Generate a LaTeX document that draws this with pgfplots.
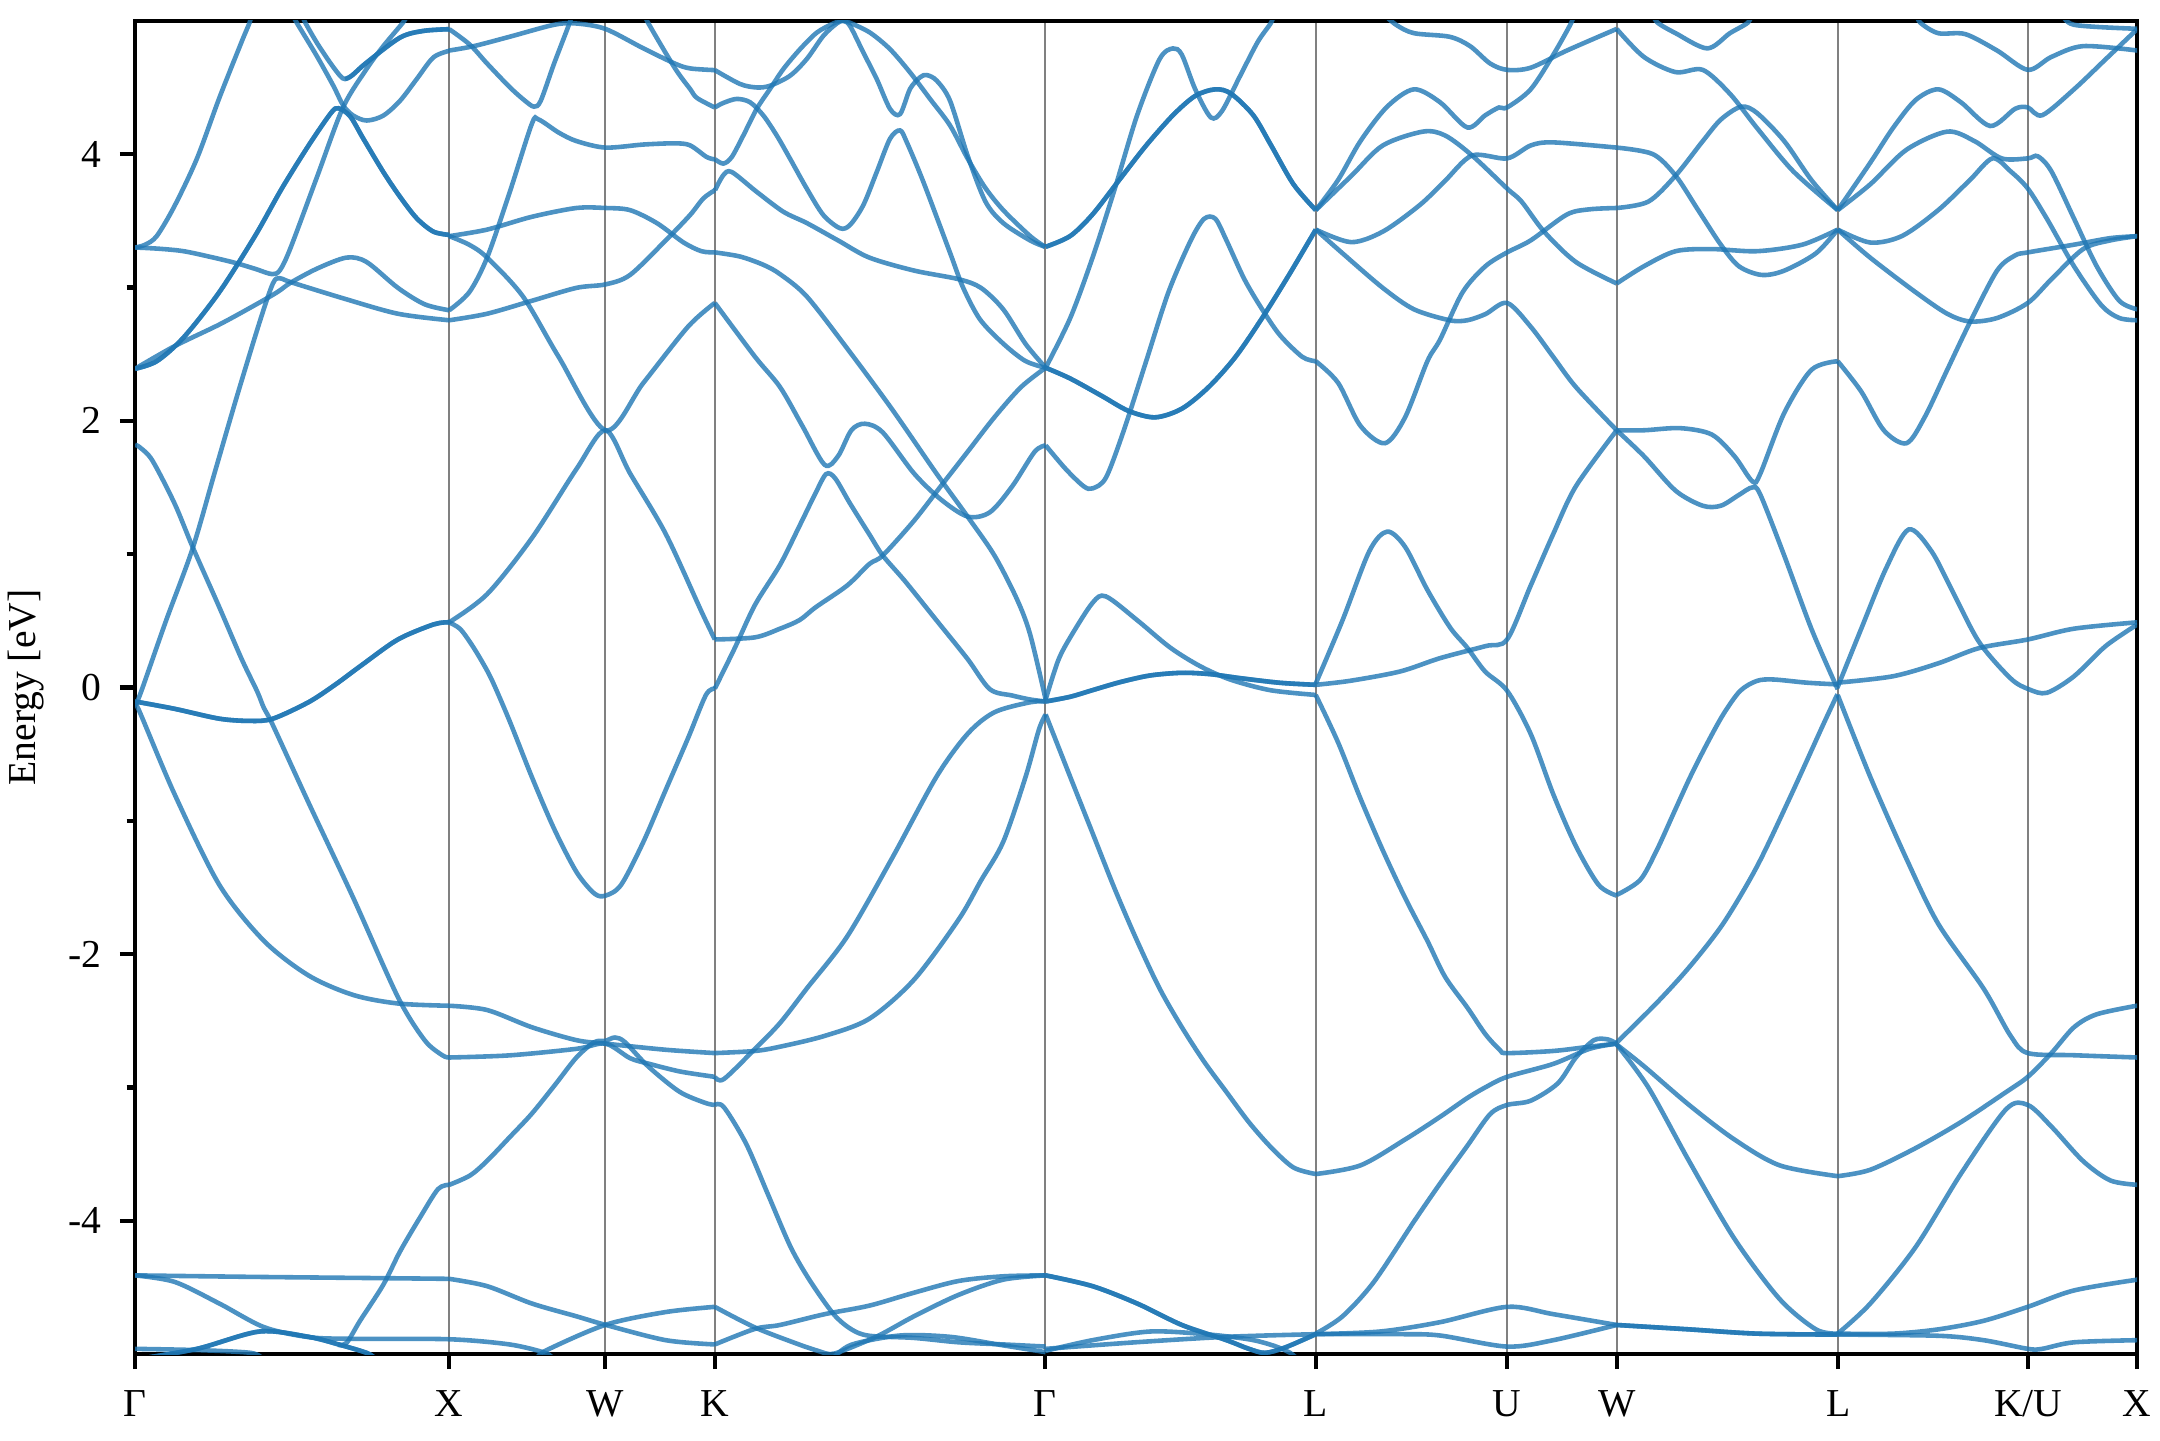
\documentclass[border=0pt]{standalone}
\usepackage{fontspec}
\setmainfont{Liberation Serif}
\usepackage{pgfplots}
\pgfplotsset{compat=1.18}
\definecolor{bandc}{RGB}{31,119,180}
\pgfplotsset{b/.style={line width=1.1pt, color=bandc, opacity=0.8, smooth, tension=0.5, mark=none}}
\begin{document}
\begin{tikzpicture}
\path[use as bounding box] (-32.4pt,-20.6pt) rectangle (486pt,325pt);
\begin{axis}[
  at={(0,0)}, anchor=south west,
  scale only axis, width=480.5pt, height=320pt,
  xmin=135, xmax=2137, ymin=-5, ymax=5,
  axis line style={line width=1pt},
  xtick={135,449,605,715,1045,1316,1507,1617,1838,2028,2137},
  xticklabels={Γ,X,W,K,Γ,L,U,W,L,K/U,X},
  ytick={-4,-2,0,2,4}, minor ytick={-3,-1,1,3},
  yticklabels={-4,-2,0,2,4},
  tick align=outside, tick pos=left,
  major tick length=3.6pt, minor tick length=2pt,
  every tick/.style={black, line width=1pt},
  xmajorgrids, major x grid style={black!50, line width=0.5pt},
  tick label style={font=\fontsize{9.5}{11}\selectfont},
  yticklabel style={anchor=east, inner sep=0pt, xshift=-4.2pt},
  xticklabel style={anchor=north, inner sep=0pt, yshift=-5pt},
  ylabel={Energy [eV]},
  every axis y label/.style={at={(axis description cs:-0.0545,0.5)}, rotate=90, anchor=center, font=\fontsize{9.5}{11}\selectfont},
]
% ---------- Panel Gamma-X ----------
\addplot[b] coordinates {(135,3.30)(145,3.32)(156.8,3.386)(174.6,3.612)(197,3.968)(219.3,4.421)(241.6,4.842)(249.6,4.987)(252,5.06)};
\addplot[b] coordinates {(135,3.30)(160,3.29)(183.6,3.272)(210,3.23)(234.9,3.185)(255,3.14)(272,3.10)(280,3.13)(290.7,3.30)(317.5,3.839)(343,4.35)(366.7,4.64)(383.3,4.81)(403.3,4.99)(408,5.05)};
\addplot[b] coordinates {(135,2.39)(156.8,2.447)(183.6,2.625)(219.3,2.965)(255,3.386)(281.8,3.742)(308.6,4.065)(330.9,4.308)(338.3,4.344)(350,4.285)(363.3,4.116)(383.3,3.866)(400,3.68)(416.7,3.519)(433.3,3.419)(449.3,3.394)};
\addplot[b] coordinates {(135,2.39)(156.8,2.447)(183.6,2.625)(219.3,2.965)(255,3.386)(281.8,3.742)(308.6,4.065)(330.9,4.308)(338.3,4.344)(350,4.285)(363.3,4.116)(383.3,3.866)(400,3.68)(416.7,3.519)(433.3,3.419)(449.3,3.394)};
\addplot[b] coordinates {(135,2.39)(174.6,2.56)(219.3,2.722)(255,2.868)(277.3,2.965)(290.7,3.036)(317.5,3.143)(346.5,3.224)(366.6,3.191)(397.9,2.997)(424.6,2.874)(449.2,2.829)};
\addplot[b] coordinates {(135,-0.14)(141.2,-0.03)(166,0.50)(192.5,1.04)(215,1.62)(237.1,2.188)(260,2.75)(272.9,3.03)(279.6,3.07)(290.7,3.04)(344.3,2.916)(397.9,2.803)(449.2,2.754)};
\addplot[b] coordinates {(291.5,5.06)(296.7,4.986)(316.7,4.737)(333.3,4.513)(343.3,4.364)(353.3,4.289)(366.7,4.252)(383.3,4.289)(400,4.40)(416.7,4.563)(433.3,4.725)(449.3,4.775)};
\addplot[b] coordinates {(301,5.06)(305,4.99)(316.7,4.837)(330,4.687)(340,4.588)(345,4.563)(352,4.59)(366.7,4.687)(400,4.874)(423.3,4.924)(449.3,4.937)};
\addplot[b] coordinates {(345,4.563)(352,4.59)(366.7,4.687)(400,4.874)(423.3,4.924)(449.3,4.937)};
\addplot[b] coordinates {(135,1.82)(140,1.80)(152.3,1.703)(174.6,1.379)(192.5,1.056)(219.3,0.602)(241.6,0.214)(257.2,-0.03)(263.9,-0.154)(272.9,-0.283)(308.6,-0.865)(353.2,-1.577)(397.9,-2.322)(424.6,-2.645)(442.5,-2.759)(449.2,-2.775)};
\addplot[b] coordinates {(135,-0.105)(174.6,-0.16)(219.3,-0.234)(250.5,-0.251)(272.9,-0.234)(308.6,-0.11)(335,0.02)(362.1,0.17)(397.9,0.36)(433.6,0.473)(449.2,0.489)};
\addplot[b] coordinates {(135,-0.105)(174.6,-0.16)(219.3,-0.234)(250.5,-0.251)(272.9,-0.234)(308.6,-0.11)(335,0.02)(362.1,0.17)(397.9,0.36)(433.6,0.473)(449.2,0.489)};
\addplot[b] coordinates {(135,-0.14)(138.9,-0.17)(174.6,-0.801)(219.3,-1.48)(263.9,-1.90)(308.6,-2.16)(353.2,-2.306)(397.9,-2.37)(449.2,-2.387)};
\addplot[b] coordinates {(135,-4.409)(250,-4.42)(384,-4.43)(449.2,-4.435)};
\addplot[b] coordinates {(135,-4.409)(174.6,-4.458)(219.3,-4.62)(263.9,-4.797)(308.6,-4.872)(353.2,-4.885)(449.2,-4.888)(509.5,-4.927)(545.2,-4.99)(552,-5.03)};
\addplot[b] coordinates {(135,-5.04)(197,-4.96)(259.5,-4.83)(308.6,-4.87)(340,-4.93)(366.6,-4.99)(375,-5.03)};
\addplot[b] coordinates {(135,-5.04)(197,-4.96)(259.5,-4.83)(308.6,-4.87)(340,-4.93)(366.6,-4.99)(375,-5.03)};
\addplot[b] coordinates {(135,-4.96)(200,-4.97)(250.5,-4.99)(262,-5.03)};
\addplot[b] coordinates {(338,-4.93)(346.7,-4.914)(360,-4.75)(383.3,-4.479)(400,-4.23)(420.2,-3.972)(438,-3.762)(449.2,-3.73)};
% ---------- Panel X-W-K ----------
\addplot[b] coordinates {(449.3,4.937)(470,4.82)(487,4.68)(510,4.50)(525,4.40)(534,4.356)(540.7,4.40)(554.1,4.68)(569.7,4.987)(572,5.06)};
\addplot[b] coordinates {(449.2,4.777)(473.8,4.81)(509.5,4.88)(554,4.97)(576,4.98)(605.4,4.939)(643.4,4.793)(674.6,4.68)(690,4.643)(714.8,4.63)};
\addplot[b] coordinates {(449.2,3.385)(487.1,3.434)(531.8,3.53)(576.4,3.596)(605.4,3.596)(630,3.58)(656.8,3.483)(683.6,3.337)(701.4,3.272)(714.8,3.263)};
\addplot[b] coordinates {(449.2,3.385)(469.3,3.32)(487.1,3.224)(522.9,2.933)(558.6,2.48)(605.4,1.929)(643.4,2.285)(688,2.706)(714.8,2.884)};
\addplot[b] coordinates {(449.2,2.829)(469.3,2.965)(487.1,3.224)(509.5,3.71)(531.8,4.227)(538.5,4.26)(558.6,4.162)(576.4,4.098)(605.4,4.049)(643.4,4.072)(674.6,4.081)(690,4.066)(706.7,3.978)(715,3.961)};
\addplot[b] coordinates {(449.2,2.754)(487.1,2.803)(531.8,2.9)(576.4,2.997)(605.4,3.023)(630,3.094)(665.7,3.353)(690,3.543)(703.3,3.668)(715,3.73)};
\addplot[b] coordinates {(449.2,0.489)(487.1,0.7)(531.8,1.12)(576.4,1.638)(605.4,1.929)(630,1.606)(665.7,1.152)(701.4,0.57)(714.8,0.36)};
\addplot[b] coordinates {(449.2,0.489)(460,0.44)(470,0.34)(480,0.22)(491.6,0.06)(509.5,-0.25)(531.8,-0.671)(554.1,-1.06)(576.4,-1.383)(594.3,-1.545)(605.4,-1.561)(621.1,-1.48)(643.4,-1.157)(665.7,-0.768)(688,-0.38)(705.9,-0.056)(714.8,-0.008)};
\addplot[b] coordinates {(449.2,-2.387)(487.1,-2.419)(531.8,-2.548)(576.4,-2.645)(605.4,-2.671)(665.7,-2.717)(714.8,-2.742)};
\addplot[b] coordinates {(449.2,-2.775)(509.5,-2.759)(576.4,-2.71)(605.4,-2.671)(630,-2.78)(647.9,-2.82)(680,-2.88)(714.8,-2.92)};
\addplot[b] coordinates {(449.2,-3.73)(470,-3.66)(487.1,-3.55)(510,-3.37)(531.8,-3.196)(555,-2.98)(576.4,-2.775)(594.3,-2.66)(605.4,-2.65)(615,-2.625)(625,-2.66)(647.9,-2.84)(679.1,-3.03)(705,-3.115)(714.8,-3.131)};
\addplot[b] coordinates {(449.2,-4.435)(487.1,-4.49)(531.8,-4.62)(576.4,-4.716)(605.4,-4.78)(665.7,-4.895)(714.8,-4.927)};
\addplot[b] coordinates {(538,-5.03)(545.2,-4.975)(605.4,-4.78)(665.7,-4.684)(714.8,-4.645)};
\addplot[b] coordinates {(644,5.06)(647.9,4.987)(674.6,4.648)(690,4.489)(697,4.421)(714.8,4.35)};
% ---------- Panel K-Gamma ----------
\addplot[b] coordinates {(714.8,4.63)(740,4.526)(756.7,4.50)(770,4.513)(790,4.588)(806.7,4.713)(823.3,4.887)(836.7,4.98)(843,5.0)(850,4.985)(870,4.911)(890,4.787)(910,4.613)(930,4.414)(950,4.215)(967.5,3.968)(985,3.75)(1003.2,3.58)(1030,3.386)(1045,3.305)};
\addplot[b] coordinates {(715,3.961)(723.3,3.929)(731.7,3.978)(743.3,4.14)(756.7,4.34)(770,4.489)(783.3,4.638)(800,4.787)(816.7,4.911)(833.3,4.98)(843,5.0)(850,4.961)(863.3,4.762)(876.7,4.563)(890,4.339)(900,4.30)(910,4.489)(920,4.576)(926.7,4.593)(936.7,4.551)(950,4.40)(967.5,3.99)(985.4,3.644)(1003.2,3.483)(1030,3.353)(1045,3.305)};
\addplot[b] coordinates {(714.8,4.35)(723.3,4.384)(736.7,4.414)(750,4.389)(763.3,4.29)(776.7,4.14)(790,3.966)(806.7,3.742)(823.3,3.543)(840,3.444)(850,3.469)(863.3,3.618)(876.7,3.866)(890,4.116)(900,4.178)(906.7,4.09)(923.3,3.792)(950,3.26)(963,3.0)(980,2.76)(1003,2.58)(1025,2.45)(1045,2.398)};
\addplot[b] coordinates {(715,3.73)(723.3,3.842)(731.7,3.866)(756.7,3.717)(783.3,3.568)(806.8,3.483)(838,3.353)(869.3,3.224)(913.9,3.127)(958.6,3.062)(980.9,2.997)(1003.2,2.836)(1025.5,2.577)(1045.6,2.398)};
\addplot[b] coordinates {(714.8,3.263)(740,3.232)(763.3,3.17)(780,3.1)(806.8,2.932)(847,2.544)(891.6,2.091)(936.3,1.606)(967.5,1.282)(994.3,0.991)(1016.6,0.667)(1030,0.40)(1045.6,-0.09)};
\addplot[b] coordinates {(714.8,2.884)(755,2.48)(780,2.253)(802.3,1.962)(824.6,1.67)(838,1.735)(851.4,1.93)(864.8,1.978)(882.7,1.913)(913.9,1.606)(940.7,1.411)(967.5,1.282)(989.8,1.314)(1012.1,1.508)(1034.5,1.767)(1045.6,1.816)};
\addplot[b] coordinates {(714.8,0.36)(755,0.376)(780,0.441)(799.6,0.506)(815.7,0.602)(847,0.764)(869.3,0.926)(882.7,0.99)(913.9,1.25)(940.7,1.509)(967.5,1.767)(994.3,2.026)(1021,2.253)(1045.6,2.398)};
\addplot[b] coordinates {(714.8,-0.008)(735,0.3)(755,0.62)(780,0.92)(800,1.22)(815,1.45)(826,1.6)(835,1.57)(850,1.38)(870,1.14)(882.7,0.99)(905,0.797)(936.3,0.505)(967.5,0.214)(989.8,-0.013)(1012,-0.06)(1030,-0.09)(1045.6,-0.105)};
\addplot[b] coordinates {(714.8,-2.742)(755,-2.726)(780,-2.694)(824.6,-2.613)(869.3,-2.484)(913.9,-2.192)(958.6,-1.74)(980.9,-1.448)(1003.2,-1.157)(1025.5,-0.671)(1038.9,-0.315)(1045.6,-0.202)};
\addplot[b] coordinates {(714.8,-2.92)(723.8,-2.937)(755,-2.71)(780,-2.516)(806.8,-2.257)(847,-1.869)(891.6,-1.286)(936.3,-0.671)(967.5,-0.348)(994.3,-0.186)(1030,-0.111)(1045.6,-0.105)};
\addplot[b] coordinates {(714.8,-3.131)(723.8,-3.147)(746.1,-3.422)(768.4,-3.81)(790.7,-4.198)(810,-4.45)(833.6,-4.70)(851.4,-4.814)(869.3,-4.862)(913.9,-4.878)(958.6,-4.911)(1003.2,-4.927)(1045.6,-4.943)};
\addplot[b] coordinates {(714.8,-4.645)(755,-4.80)(800,-4.93)(820,-4.98)(830,-5.0)(842.5,-4.975)(878.2,-4.862)(913.9,-4.716)(958.6,-4.555)(1003.2,-4.441)(1045.6,-4.409)};
\addplot[b] coordinates {(714.8,-4.927)(755,-4.81)(780,-4.781)(824.6,-4.70)(869.3,-4.636)(913.9,-4.539)(958.6,-4.451)(1003.2,-4.416)(1045.6,-4.409)};
\addplot[b] coordinates {(832,-5.04)(851,-4.93)(900,-4.86)(950,-4.87)(1000,-4.93)(1045.6,-4.985)};
% ---------- Panel Gamma-L ----------
\addplot[b] coordinates {(1045.6,3.305)(1070.2,3.386)(1092.5,3.548)(1119.3,3.807)(1146.1,4.065)(1172.9,4.292)(1195.2,4.437)(1215.3,4.486)(1230.9,4.454)(1253.2,4.292)(1271.1,4.065)(1293.4,3.774)(1315.7,3.58)};
\addplot[b] coordinates {(1045.6,3.305)(1070.2,3.386)(1092.5,3.548)(1119.3,3.807)(1146.1,4.065)(1172.9,4.292)(1195.2,4.437)(1215.3,4.486)(1230.9,4.454)(1253.2,4.292)(1271.1,4.065)(1293.4,3.774)(1315.7,3.58)};
\addplot[b] coordinates {(1045.6,2.398)(1070.2,2.771)(1092.5,3.224)(1114.8,3.742)(1137.1,4.292)(1159.5,4.712)(1172.9,4.793)(1181.8,4.745)(1195.2,4.486)(1210.8,4.275)(1222,4.324)(1239.8,4.583)(1257.7,4.842)(1271.1,4.987)(1274,5.06)};
\addplot[b] coordinates {(1045.6,2.398)(1070.2,2.317)(1101.4,2.188)(1128.2,2.075)(1155,2.026)(1181.8,2.091)(1208.6,2.253)(1235.4,2.479)(1262.1,2.771)(1288.9,3.094)(1315.7,3.434)};
\addplot[b] coordinates {(1045.6,2.398)(1070.2,2.317)(1101.4,2.188)(1128.2,2.075)(1155,2.026)(1181.8,2.091)(1208.6,2.253)(1235.4,2.479)(1262.1,2.771)(1288.9,3.094)(1315.7,3.434)};
\addplot[b] coordinates {(1045.6,1.816)(1065.7,1.638)(1083.6,1.509)(1092.5,1.493)(1105.9,1.574)(1123.8,1.929)(1146.1,2.447)(1168.4,2.965)(1190.7,3.353)(1204.1,3.515)(1215.3,3.515)(1226.4,3.353)(1244.3,3.062)(1262.1,2.836)(1280,2.641)(1302.3,2.479)(1315.7,2.447)};
\addplot[b] coordinates {(1045.6,-0.09)(1058,0.2)(1070.2,0.376)(1092.5,0.635)(1105.9,0.683)(1137.1,0.505)(1170,0.30)(1200,0.16)(1230,0.06)(1270,-0.02)(1315.7,-0.056)};
\addplot[b] coordinates {(1045.6,-0.105)(1070,-0.07)(1092.5,-0.02)(1120,0.04)(1150,0.09)(1181.8,0.11)(1210,0.10)(1240,0.07)(1280,0.035)(1315.7,0.02)};
\addplot[b] coordinates {(1045.6,-0.105)(1070,-0.07)(1092.5,-0.02)(1120,0.04)(1150,0.09)(1181.8,0.11)(1210,0.10)(1240,0.07)(1280,0.035)(1315.7,0.02)};
\addplot[b] coordinates {(1045.6,-0.202)(1070.2,-0.671)(1092.5,-1.092)(1114.8,-1.513)(1137.1,-1.901)(1159.5,-2.257)(1181.8,-2.548)(1204.1,-2.807)(1226.4,-3.034)(1248.8,-3.26)(1271.1,-3.45)(1293.4,-3.60)(1315.7,-3.649)};
\addplot[b] coordinates {(1045.6,-4.409)(1092.5,-4.49)(1137.1,-4.62)(1181.8,-4.781)(1226.4,-4.895)(1248.8,-4.96)(1265,-4.99)(1285,-4.95)(1315.7,-4.85)};
\addplot[b] coordinates {(1045.6,-4.409)(1092.5,-4.49)(1137.1,-4.62)(1181.8,-4.781)(1226.4,-4.895)(1248.8,-4.96)(1265,-4.99)(1285,-4.95)(1315.7,-4.85)};
\addplot[b] coordinates {(1045.6,-4.975)(1092.5,-4.895)(1150,-4.83)(1205,-4.85)(1250,-4.89)(1275,-4.94)(1290,-4.99)(1298,-5.04)};
\addplot[b] coordinates {(1045.6,-4.96)(1137,-4.91)(1226,-4.87)(1315.7,-4.85)};
% ---------- Panel L-U-W ----------
\addplot[b] coordinates {(1315.7,3.58)(1338,3.806)(1360.4,4.098)(1387.1,4.356)(1413.9,4.486)(1440,4.389)(1467.2,4.2)(1485.3,4.292)(1498.9,4.35)(1507,4.35)(1530.6,4.486)(1553.2,4.745)(1571.3,4.987)(1574,5.06)};
\addplot[b] coordinates {(1315.7,3.58)(1351.4,3.838)(1382.7,4.065)(1422.9,4.169)(1445,4.14)(1472,3.99)(1507,3.742)(1521.5,3.644)(1544.1,3.418)(1575.8,3.191)(1616.6,3.03)};
\addplot[b] coordinates {(1315.7,3.434)(1351,3.34)(1383,3.42)(1420,3.62)(1445,3.80)(1472,3.99)(1507,3.968)(1530.6,4.065)(1553.2,4.088)(1616.6,4.049)};
\addplot[b] coordinates {(1315.7,3.434)(1342.5,3.256)(1382.7,2.997)(1413.9,2.836)(1449.6,2.754)(1467.2,2.754)(1485.3,2.8)(1507,2.884)(1530.6,2.706)(1553.2,2.479)(1575.8,2.253)(1616.6,1.929)};
\addplot[b] coordinates {(1315.7,2.447)(1338,2.285)(1360.4,1.962)(1384.9,1.832)(1405,2.026)(1427.3,2.447)(1440,2.609)(1462.6,2.965)(1485.3,3.159)(1507,3.263)(1530.6,3.353)(1566.8,3.547)(1589.4,3.586)(1616.6,3.596)};
\addplot[b] coordinates {(1315.7,0.03)(1342.5,0.505)(1369.3,1.023)(1387.1,1.169)(1405,1.055)(1427.3,0.732)(1450,0.45)(1467,0.30)(1485,0.12)(1507,-0.024)(1530.6,-0.348)(1553.2,-0.801)(1575.8,-1.189)(1598.5,-1.48)(1616.6,-1.561)};
\addplot[b] coordinates {(1315.7,0.02)(1350,0.05)(1400,0.12)(1440,0.22)(1485.3,0.31)(1507,0.36)(1530.6,0.764)(1553.2,1.152)(1575.8,1.509)(1616.6,1.929)};
\addplot[b] coordinates {(1315.7,-0.056)(1338,-0.412)(1360.4,-0.833)(1382.7,-1.221)(1405,-1.577)(1427.3,-1.90)(1445,-2.17)(1467.2,-2.40)(1485.3,-2.6)(1500,-2.72)(1507,-2.742)(1553.2,-2.726)(1589.4,-2.694)(1616.6,-2.671)};
\addplot[b] coordinates {(1315.7,-3.649)(1360.4,-3.584)(1405,-3.39)(1440,-3.22)(1467,-3.08)(1485,-3.0)(1507,-2.92)(1553.2,-2.823)(1589.4,-2.71)(1616.6,-2.671)};
\addplot[b] coordinates {(1315.7,-4.846)(1342.5,-4.716)(1373.8,-4.458)(1413.9,-4.005)(1440,-3.72)(1467,-3.44)(1490,-3.2)(1507,-3.131)(1530.6,-3.099)(1557.7,-2.969)(1575.8,-2.775)(1593.9,-2.645)(1607.5,-2.639)(1616.6,-2.671)};
\addplot[b] coordinates {(1315.7,-4.85)(1380,-4.83)(1440,-4.76)(1507,-4.645)(1553.2,-4.70)(1616.6,-4.781)};
\addplot[b] coordinates {(1315.7,-4.85)(1400,-4.85)(1440,-4.86)(1507,-4.943)(1553.2,-4.895)(1616.6,-4.781)};
\addplot[b] coordinates {(1382,5.06)(1396,4.97)(1413.9,4.907)(1449.6,4.88)(1470,4.81)(1490,4.68)(1507,4.632)(1530.6,4.648)(1566.8,4.777)(1616.6,4.939)};
% ---------- Panel W-L ----------
\addplot[b] coordinates {(1616.6,4.939)(1643.8,4.729)(1675.5,4.615)(1702.6,4.632)(1729.8,4.453)(1757,4.195)(1793.2,3.871)(1837.6,3.58)};
\addplot[b] coordinates {(1652,5.06)(1657.3,4.987)(1675.5,4.907)(1707.2,4.793)(1729.8,4.907)(1747.9,4.987)(1752,5.06)};
\addplot[b] coordinates {(1616.6,4.049)(1652.8,4.0)(1675.5,3.839)(1698.1,3.58)(1720.7,3.321)(1738.8,3.159)(1761.5,3.094)(1784.1,3.126)(1815.8,3.256)(1837.6,3.434)};
\addplot[b] coordinates {(1616.6,3.596)(1648.3,3.644)(1675.5,3.839)(1702.6,4.097)(1720.7,4.259)(1741.1,4.356)(1757,4.308)(1784.1,4.098)(1811.3,3.806)(1837.6,3.58)};
\addplot[b] coordinates {(1616.6,3.03)(1643.8,3.159)(1675.5,3.272)(1711.7,3.288)(1757,3.272)(1802.2,3.321)(1837.6,3.434)};
\addplot[b] coordinates {(1616.6,1.929)(1643.8,1.929)(1680,1.945)(1711.7,1.897)(1734.3,1.735)(1752.4,1.545)(1760,1.60)(1784.1,2.058)(1811.3,2.382)(1837.6,2.447)};
\addplot[b] coordinates {(1616.6,1.929)(1643.8,1.735)(1675.5,1.476)(1702.6,1.363)(1720.7,1.363)(1738.8,1.444)(1752,1.50)(1760,1.45)(1784.1,0.99)(1811.3,0.44)(1837.6,-0.013)};
\addplot[b] coordinates {(1616.6,-1.556)(1640,-1.444)(1656.7,-1.22)(1673.3,-0.947)(1690,-0.673)(1706.7,-0.425)(1723.3,-0.2)(1740,-0.026)(1756.7,0.049)(1773.3,0.06)(1806.7,0.036)(1837.3,0.023)};
\addplot[b] coordinates {(1616.6,-2.663)(1656.7,-2.365)(1690,-2.09)(1723.3,-1.768)(1756.7,-1.345)(1790,-0.823)(1823.3,-0.275)(1837.3,-0.051)};
\addplot[b] coordinates {(1616.6,-2.678)(1643.8,-2.84)(1689,-3.131)(1734.3,-3.39)(1779.6,-3.584)(1837.6,-3.665)};
\addplot[b] coordinates {(1616.6,-2.678)(1648.3,-3.0)(1689,-3.552)(1734.3,-4.134)(1779.6,-4.587)(1815.8,-4.814)(1837.6,-4.846)};
\addplot[b] coordinates {(1616.6,-4.781)(1689,-4.814)(1757,-4.846)(1837.6,-4.853)};
\addplot[b] coordinates {(1616.6,-4.781)(1689,-4.814)(1757,-4.846)(1837.6,-4.853)};
% ---------- Panel L-K/U-X ----------
\addplot[b] coordinates {(1837.6,3.58)(1870.2,3.936)(1892.8,4.195)(1915.4,4.405)(1938.1,4.486)(1960.8,4.389)(1990.1,4.211)(2015,4.34)(2027.7,4.35)(2042.2,4.292)(2073.9,4.486)(2105.6,4.712)(2137.3,4.939)};
\addplot[b] coordinates {(1837.6,3.58)(1870.2,3.774)(1906.4,4.033)(1947.1,4.169)(1974.3,4.098)(2001.5,3.968)(2027.7,3.968)(2037.7,3.984)(2051.3,3.871)(2074,3.515)(2096.6,3.159)(2119.2,2.9)(2137.3,2.836)};
\addplot[b] coordinates {(1837.6,3.434)(1870.2,3.337)(1901.9,3.386)(1938.1,3.58)(1969.8,3.806)(1992.4,3.968)(2010.5,3.871)(2027.7,3.742)(2046.8,3.515)(2073.9,3.159)(2101.1,2.868)(2119.2,2.771)(2137.3,2.754)};
\addplot[b] coordinates {(1837.6,3.434)(1870.2,3.223)(1915.4,2.965)(1947.1,2.803)(1969.8,2.745)(1997,2.771)(2027.7,2.884)(2051.3,3.062)(2083,3.288)(2110.2,3.353)(2137.3,3.385)};
\addplot[b] coordinates {(1837.6,2.447)(1861.1,2.22)(1883.7,1.929)(1906.4,1.832)(1924.5,2.026)(1947.1,2.382)(1969.8,2.738)(1997,3.127)(2015,3.24)(2027.7,3.263)(2073.9,3.321)(2110.2,3.37)(2137.3,3.385)};
\addplot[b] coordinates {(1837.6,0.004)(1861.1,0.44)(1886,0.894)(1908.6,1.185)(1931.3,1.023)(1951.7,0.732)(1978.8,0.343)(2010.5,0.068)(2028.6,-0.013)(2046.7,-0.04)(2073.9,0.084)(2105.6,0.311)(2137.3,0.473)};
\addplot[b] coordinates {(1837.6,0.036)(1892.8,0.084)(1938.1,0.181)(1978.8,0.295)(2027.7,0.36)(2073.9,0.441)(2137.3,0.489)};
\addplot[b] coordinates {(1837.6,-0.056)(1870.2,-0.671)(1906.4,-1.286)(1938.1,-1.772)(1983.4,-2.257)(2010.5,-2.613)(2027.7,-2.742)(2073.9,-2.758)(2137.3,-2.775)};
\addplot[b] coordinates {(1837.6,-3.665)(1870.2,-3.617)(1915.4,-3.455)(1960.7,-3.26)(2006,-3.034)(2027.7,-2.92)(2051.3,-2.742)(2073.9,-2.548)(2096.6,-2.451)(2137.3,-2.386)};
\addplot[b] coordinates {(1837.6,-4.846)(1870.2,-4.62)(1915.4,-4.198)(1960.7,-3.648)(2006,-3.163)(2027.7,-3.131)(2051.3,-3.293)(2083,-3.552)(2110.2,-3.697)(2137.3,-3.73)};
\addplot[b] coordinates {(1837.6,-4.846)(1892.8,-4.846)(1938.1,-4.814)(1983.4,-4.75)(2027.7,-4.645)(2073.9,-4.522)(2137.3,-4.441)};
\addplot[b] coordinates {(1837.6,-4.853)(1938.1,-4.862)(1983.4,-4.895)(2027.7,-4.96)(2042,-4.96)(2073.9,-4.911)(2137.3,-4.895)};
\addplot[b] coordinates {(1916,5.06)(1920,4.987)(1938.1,4.907)(1965.2,4.9)(1997,4.777)(2027.7,4.632)(2051.3,4.729)(2083,4.81)(2137.3,4.777)};
\addplot[b] coordinates {(2062,5.06)(2073.9,4.97)(2137.3,4.94)};
\end{axis}
\end{tikzpicture}
\end{document}
